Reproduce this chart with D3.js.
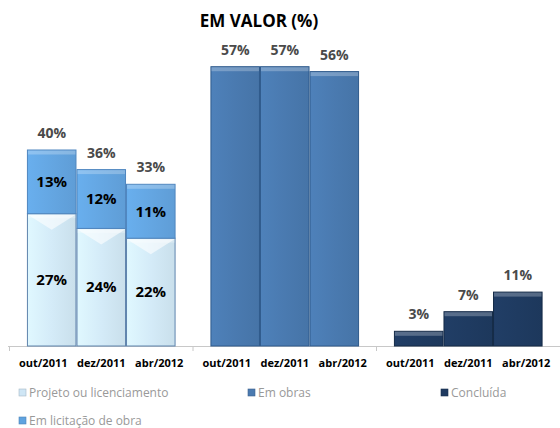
<!DOCTYPE html>
<html>
<head>
<meta charset="utf-8">
<script src="https://cdn.jsdelivr.net/npm/d3@7/dist/d3.min.js"></script>
<style>
  body { margin: 0; background: #fff; }
  svg { display: block; font-family: "Open Sans", sans-serif; }
</style>
</head>
<body>
<div id="chart"></div>
<script>
// values
var dates = ["out/2011", "dez/2011", "abr/2012"];
var groups = ["projeto", "obras", "concluida"];
var projeto = [27, 24, 22];      // Projeto ou licenciamento
var licitacao = [13, 12, 11];    // Em licitação de obra
var obras = [57, 57, 56];        // Em obras
var concluida = [3, 7, 11];      // Concluída
var legendNames = ["Projeto ou licenciamento", "Em obras", "Concluída", "Em licitação de obra"];
var legendColors = ["#cfe6f5", "#4a7ab0", "#1f3a60", "#5fa3e0"];

var width = 560, height = 428;
var baseY = 346;

var svg = d3.select("#chart").append("svg")
    .attr("width", width)
    .attr("height", height);

var defs = svg.append("defs");
function grad(id, c) {
    var g = defs.append("linearGradient").attr("id", id)
        .attr("x1", "0").attr("x2", "1").attr("y1", "0").attr("y2", "0");
    g.append("stop").attr("offset", "0").attr("stop-color", d3.color(c).brighter(0.15));
    g.append("stop").attr("offset", "0.5").attr("stop-color", c);
    g.append("stop").attr("offset", "1").attr("stop-color", d3.color(c).darker(0.15));
}
grad("g-proj", "#d4ebf8");
grad("g-lic", "#64a6e2");
grad("g-obras", "#4a7ab0");
grad("g-conc", "#1f3b61");

var x0 = d3.scaleBand()
    .domain(groups)
    .range([9.5, 560])
    .paddingInner(0.19)
    .paddingOuter(0.095);

var x1 = d3.scaleBand()
    .domain(dates)
    .range([0, x0.bandwidth()]);

// date labels are spread a bit wider than the bars
var xl = d3.scalePoint()
    .domain(dates)
    .range([-58, 58]);

var y = d3.scaleLinear()
    .domain([0, 60])
    .range([baseY, 52]);

// title
svg.append("text")
    .attr("x", 259)
    .attr("y", 27)
    .attr("text-anchor", "middle")
    .style("font-weight", "bold")
    .style("font-size", "17px")
    .style("fill", "#000")
    .text("EM VALOR (%)");

// axis line with ticks at group boundaries
svg.append("line")
    .attr("x1", 8).attr("x2", 560)
    .attr("y1", baseY + 0.5).attr("y2", baseY + 0.5)
    .style("stroke", "#c8c8c8");
var bounds = [9.5, x0("obras") - x0.step() * x0.paddingInner() / 2,
    x0("concluida") - x0.step() * x0.paddingInner() / 2];
bounds.forEach(function (b) {
    svg.append("line")
        .attr("x1", b).attr("x2", b)
        .attr("y1", baseY).attr("y2", baseY + 5)
        .style("stroke", "#c8c8c8");
});

function drawBar(gx, d, v0, v1, fill, stroke) {
    var bx = gx + x1(d), bw = x1.bandwidth();
    var top = y(v1), bot = y(v0);
    svg.append("rect")
        .attr("x", bx + 0.5).attr("y", top)
        .attr("width", bw - 1).attr("height", bot - top)
        .style("fill", fill)
        .style("stroke", stroke)
        .style("stroke-width", 1);
    // bevel highlight on top
    svg.append("rect")
        .attr("x", bx + 1).attr("y", top + 0.5)
        .attr("width", bw - 2).attr("height", Math.min(4, bot - top - 1))
        .style("fill", "#fff")
        .style("opacity", 0.25);
    return { x: bx + bw / 2, top: top, bot: bot };
}

function topLabel(cx, yy, t) {
    svg.append("text")
        .attr("x", cx).attr("y", yy - 12)
        .attr("text-anchor", "middle")
        .style("font-weight", "bold")
        .style("font-size", "14px")
        .style("fill", "#4a4a4a")
        .text(t);
}

function innerLabel(cx, yy, t) {
    svg.append("text")
        .attr("x", cx).attr("y", yy)
        .attr("dy", "0.35em")
        .attr("text-anchor", "middle")
        .style("font-weight", "bold")
        .style("font-size", "15px")
        .style("fill", "#000")
        .text(t);
}

// group 1: stacked
var g1 = x0("projeto");
dates.forEach(function (d, i) {
    var a = drawBar(g1, d, 0, projeto[i], "url(#g-proj)", "#5f84ad");
    // white chevron of the bevel on the light segment
    var bx = g1 + x1(d), bw = x1.bandwidth();
    svg.append("path")
        .attr("d", "M" + (bx + 1) + "," + (a.top + 1) + "L" + (bx + bw - 1) + "," + (a.top + 1) +
            "L" + (bx + bw / 2) + "," + (a.top + 16) + "Z")
        .style("fill", "#fff")
        .style("opacity", 0.6);
    var b = drawBar(g1, d, projeto[i], projeto[i] + licitacao[i], "url(#g-lic)", "#4f86bf");
    innerLabel(a.x, (a.top + a.bot) / 2, projeto[i] + "%");
    innerLabel(b.x, (b.top + b.bot) / 2, licitacao[i] + "%");
    topLabel(b.x, b.top, (projeto[i] + licitacao[i]) + "%");
});

// group 2
var g2 = x0("obras");
dates.forEach(function (d, i) {
    var a = drawBar(g2, d, 0, obras[i], "url(#g-obras)", "#2f5a8c");
    topLabel(a.x, a.top, obras[i] + "%");
});

// group 3
var g3 = x0("concluida");
dates.forEach(function (d, i) {
    var a = drawBar(g3, d, 0, concluida[i], "url(#g-conc)", "#142a47");
    topLabel(a.x, a.top, concluida[i] + "%");
});

// date labels
groups.forEach(function (g) {
    var cx = x0(g) + x0.bandwidth() / 2;
    dates.forEach(function (d) {
        svg.append("text")
            .attr("x", cx + xl(d))
            .attr("y", 367)
            .attr("text-anchor", "middle")
            .style("font-weight", "bold")
            .style("font-size", "11px")
            .style("fill", "#000")
            .text(d);
    });
});

// legend
var legendPos = [[19, 397], [248, 397], [441, 397], [19, 425]];
legendNames.forEach(function (n, i) {
    var p = legendPos[i];
    svg.append("rect")
        .attr("x", p[0]).attr("y", p[1] - 8)
        .attr("width", 7).attr("height", 7)
        .style("fill", legendColors[i])
        .style("stroke", d3.color(legendColors[i]).darker(0.6))
        .style("stroke-width", 0.6);
    svg.append("text")
        .attr("x", p[0] + 10).attr("y", p[1])
        .style("font-size", "12px")
        .style("fill", "#999")
        .text(n);
});
</script>
</body>
</html>
